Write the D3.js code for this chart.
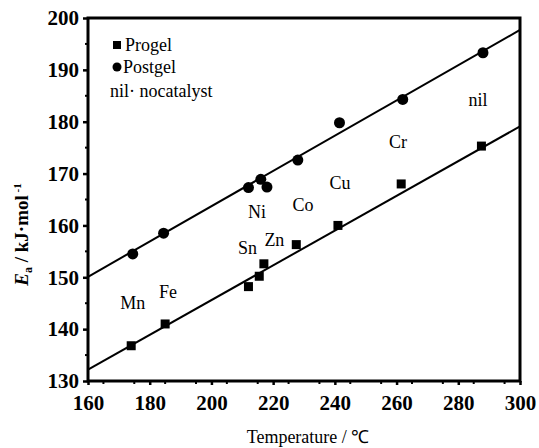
<!DOCTYPE html>
<html><head><meta charset="utf-8">
<script src="https://cdn.jsdelivr.net/npm/d3@7"></script>
<style>body{margin:0;background:#fff;}svg{display:block;}</style>
</head><body>
<script>
// ---- data ----
const xTicks = [160, 180, 200, 220, 240, 260, 280, 300];
const yTicks = [130, 140, 150, 160, 170, 180, 190, 200];
const progelT = [174, 185, 212, 215.5, 217, 227.5, 241, 261.5, 287.5];
const progelE = [136.8, 141, 148.2, 150.2, 152.6, 156.3, 160, 168, 175.3];
const postgelT = [174.5, 184.5, 212, 216, 218, 228, 241.5, 262, 288];
const postgelE = [154.5, 158.5, 167.3, 168.9, 167.4, 172.6, 179.8, 184.3, 193.3];
const fitT = [160, 300];
const postFitE = [150.1, 197.7];
const proFitE = [132.2, 179.1];
const catLabels = ["Mn", "Fe", "Sn", "Zn", "Ni", "Co", "Cu", "Cr", "nil"];
const catLabelT = [174.5, 185.9, 211.7, 220.4, 214.8, 229.7, 241.7, 260.5, 286.4];
const catLabelE = [145.1, 147.2, 155.7, 157.2, 162.6, 164.0, 168.2, 176.1, 184.2];
const legendLabels = ["Progel", "Postgel", "nil\u00B7 nocatalyst"];

const W = 539, H = 448;
const m = {l: 88, r: 19, t: 18, b: 67};
const svg = d3.select("body").append("svg").attr("width", W).attr("height", H);
const font = "'Liberation Serif', 'Times New Roman', serif";

const x = d3.scaleLinear().domain([160, 300]).range([m.l, W - m.r]);
const y = d3.scaleLinear().domain([130, 200]).range([H - m.b, m.t]);

// frame
svg.append("rect").attr("x", x(160)).attr("y", y(200))
  .attr("width", x(300) - x(160)).attr("height", y(130) - y(200))
  .attr("fill", "none").attr("stroke", "#000").attr("stroke-width", 3);

// axes
const xAxis = svg.append("g").attr("transform", `translate(0,${y(130)})`)
  .call(d3.axisBottom(x).tickValues(xTicks).tickSize(4).tickFormat(d3.format("d")));
const yAxis = svg.append("g").attr("transform", `translate(${x(160)},0)`)
  .call(d3.axisLeft(y).tickValues(yTicks).tickSize(5).tickFormat(d3.format("d")));
[xAxis, yAxis].forEach(g => {
  g.select(".domain").remove();
  g.selectAll("line").attr("stroke", "#000").attr("stroke-width", 2.5);
  g.selectAll("text").attr("font-family", font).attr("font-size", 21)
    .attr("font-weight", "bold").attr("fill", "#000");
});
xAxis.selectAll("text").attr("dy", "1.05em");
yAxis.selectAll("text").attr("dx", "-0.05em");
// minor ticks
const minorX = d3.range(165, 300, 10);
svg.append("g").selectAll("line").data(minorX).join("line")
  .attr("x1", d => x(d)).attr("x2", d => x(d))
  .attr("y1", y(130)).attr("y2", y(130) + 3).attr("stroke", "#000").attr("stroke-width", 2);
const minorY = d3.range(135, 200, 10);
svg.append("g").selectAll("line").data(minorY).join("line")
  .attr("x1", x(160)).attr("x2", x(160) - 3)
  .attr("y1", d => y(d)).attr("y2", d => y(d)).attr("stroke", "#000").attr("stroke-width", 2);

// fit lines
const line = d3.line().x(d => x(d[0])).y(d => y(d[1]));
svg.append("path").datum(fitT.map((t, i) => [t, postFitE[i]])).attr("d", line)
  .attr("stroke", "#000").attr("stroke-width", 2).attr("fill", "none");
svg.append("path").datum(fitT.map((t, i) => [t, proFitE[i]])).attr("d", line)
  .attr("stroke", "#000").attr("stroke-width", 2).attr("fill", "none");

// markers
svg.append("g").selectAll("rect").data(progelT.map((t, i) => [t, progelE[i]])).join("rect")
  .attr("x", d => x(d[0]) - 4.5).attr("y", d => y(d[1]) - 4.5)
  .attr("width", 9).attr("height", 9).attr("fill", "#000");
svg.append("g").selectAll("circle").data(postgelT.map((t, i) => [t, postgelE[i]])).join("circle")
  .attr("cx", d => x(d[0])).attr("cy", d => y(d[1])).attr("r", 5.5).attr("fill", "#000");

// category labels
svg.append("g").selectAll("text").data(catLabels).join("text")
  .attr("x", (d, i) => x(catLabelT[i])).attr("y", (d, i) => y(catLabelE[i]))
  .attr("text-anchor", "middle").attr("dominant-baseline", "central")
  .attr("font-family", font).attr("font-size", 18).attr("fill", "#000")
  .text(d => d);

// legend
const lg = svg.append("g").attr("font-family", font).attr("font-size", 18).attr("fill", "#000");
lg.append("rect").attr("x", 113).attr("y", 41).attr("width", 8).attr("height", 8).attr("fill", "#000");
lg.append("text").attr("x", 125).attr("y", 51).text(legendLabels[0]);
lg.append("circle").attr("cx", 117).attr("cy", 67).attr("r", 4.5).attr("fill", "#000");
lg.append("text").attr("x", 123).attr("y", 73).text(legendLabels[1]);
lg.append("text").attr("x", 110).attr("y", 97).text(legendLabels[2]);

// axis titles
svg.append("text").attr("x", (x(160) + x(300)) / 2 + 4).attr("y", 443)
  .attr("text-anchor", "middle").attr("font-family", font).attr("font-size", 18).attr("fill", "#000")
  .text("Temperature / \u2103");
const yt = svg.append("text").attr("transform", `translate(28,${(y(130) + y(200)) / 2 + 35}) rotate(-90)`)
  .attr("text-anchor", "middle").attr("font-family", font).attr("font-size", 19)
  .attr("font-weight", "bold").attr("fill", "#000");
yt.append("tspan").attr("font-style", "italic").text("E");
yt.append("tspan").attr("font-size", 12).attr("dy", 4).text("a");
yt.append("tspan").attr("dy", -4).text(" / kJ\u00B7mol");
yt.append("tspan").attr("font-size", 11).attr("dy", -7).text(" -1");
</script>
</body></html>
